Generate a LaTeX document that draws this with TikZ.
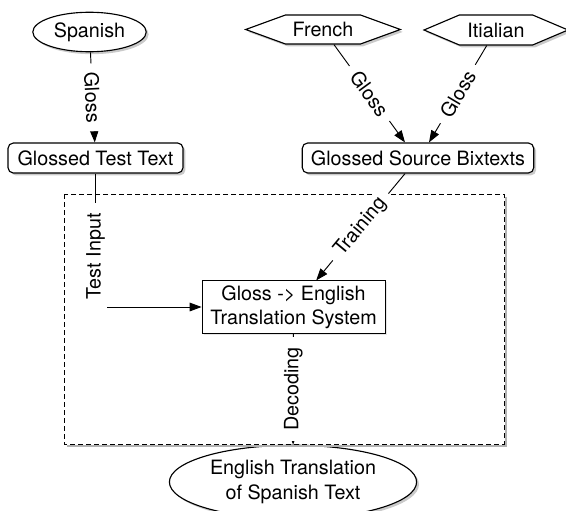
\documentclass[tikz,border=0pt]{standalone}
\usepackage{fontspec}
\setmainfont{TeX Gyre Heros}
\usetikzlibrary{shapes.geometric,shapes.symbols,shadows,arrows.meta}

\tikzset{
  flow/.style={draw=black, line width=.7pt, -{Triangle[length=9pt,width=6.5pt]}},
  softshadow/.style={drop shadow={shadow xshift=1.8pt,shadow yshift=-1.8pt,opacity=.42}},
  langoval/.style={ellipse, draw, line width=.85pt, fill=white, softshadow},
  langhex/.style={signal, signal to=east and west, draw, line width=.85pt, fill=white, softshadow},
  textbox/.style={rectangle, rounded corners=4pt, draw, line width=.85pt, fill=white, softshadow,
    minimum height=22.5pt, inner xsep=6.5pt},
  edgelbl/.style={fill=white, inner xsep=6.5pt, inner ysep=1.5pt},
}

\begin{document}
\begin{tikzpicture}[x=.75pt,y=-.75pt,font=\fontsize{14.8}{18.3}\selectfont]
\useasboundingbox (0,0) rectangle (566,510);
% sources
\node[langoval, minimum width=81.75pt, minimum height=25.5pt] (spanish) at (89.5,32) {Spanish};
\node[langhex, signal pointer angle=40, minimum width=116pt, minimum height=21.75pt] (french) at (323,29.5) {French};
\node[langhex, signal pointer angle=46, minimum width=108pt, minimum height=22.5pt] (italian) at (496,30) {Itialian};
% glossed texts
\node[textbox, minimum width=131.25pt] (testtext) at (95.5,158) {Glossed Test Text};
\node[textbox, minimum width=171pt] (bitexts) at (418,158) {Glossed Source Bixtexts};
% translation stage
\node[draw, fill=white, line width=.6pt, align=center, minimum width=137.25pt, minimum height=37.5pt,
  drop shadow={shadow xshift=1.2pt,shadow yshift=-1.2pt,opacity=.2}] (system) at (293.5,307) {Gloss -> English\\Translation System};
\node[langoval, align=center, minimum width=175.5pt, minimum height=54pt] (english) at (293,482) {English Translation\\of Spanish Text};
% dashed frame with its shadow
\draw[black!30, line width=2.2pt] (506,197) -- (506,446) -- (67,446);
\draw[line width=.75pt, dash pattern=on 3.75pt off 2.25pt] (64,194) rectangle (504,444);
% connectors
\draw[flow] (spanish) -- (testtext) node[edgelbl, midway, sloped] {Gloss};
\draw[flow] (french) -- ([xshift=-9.75pt]bitexts.north) node[edgelbl, midway, sloped] {Gloss};
\draw[flow] (italian) -- ([xshift=8.25pt]bitexts.north) node[edgelbl, midway, sloped] {Gloss};
\draw[flow] (bitexts) -- ([xshift=17pt]system.north) node[edgelbl, midway, sloped] {Training};
\draw[flow] (testtext) |- (system) node[edgelbl, pos=.31, rotate=90, inner xsep=8pt] {Test Input};
\draw[flow] (system) -- (english) node[edgelbl, midway, rotate=90, inner xsep=8pt] {Decoding};
\end{tikzpicture}
\end{document}
